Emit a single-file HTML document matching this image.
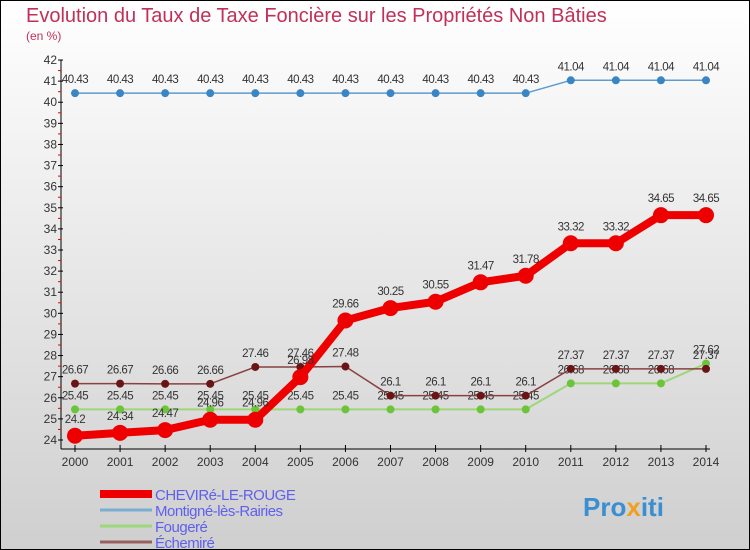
<!DOCTYPE html>
<html><head><meta charset="utf-8"><style>
body{margin:0}
svg{display:block;font-family:"Liberation Sans",sans-serif}
</style></head><body>
<svg width="750" height="550" viewBox="0 0 750 550">
<defs><linearGradient id="bg" x1="0" y1="0" x2="0" y2="1"><stop offset="0" stop-color="#ffffff"/><stop offset="1" stop-color="#cfcfcf"/></linearGradient></defs>
<rect x="0.5" y="0.5" width="749" height="549" fill="url(#bg)" stroke="#000"/>
<text x="26" y="22" font-size="20" fill="#c0305a">Evolution du Taux de Taxe Foncière sur les Propriétés Non Bâties</text>
<text x="26" y="40" font-size="12" fill="#c0305a">(en %)</text>
<g id="axes"></g>
<g id="series"></g>
<g id="legend"></g>
<text x="583" y="516" font-size="26" font-weight="bold" fill="#3a8fd0">Pro<tspan fill="#f0a020">x</tspan>iti</text>
</svg>
<script>
const years=[2000,2001,2002,2003,2004,2005,2006,2007,2008,2009,2010,2011,2012,2013,2014];
const chevire=[24.2,24.34,24.47,24.96,24.96,26.98,29.66,30.25,30.55,31.47,31.78,33.32,33.32,34.65,34.65];
const montigne=[40.43,40.43,40.43,40.43,40.43,40.43,40.43,40.43,40.43,40.43,40.43,41.04,41.04,41.04,41.04];
const fougere=[25.45,25.45,25.45,25.45,25.45,25.45,25.45,25.45,25.45,25.45,25.45,26.68,26.68,26.68,27.62];
const echemire=[26.67,26.67,26.66,26.66,27.46,27.46,27.48,26.1,26.1,26.1,26.1,27.37,27.37,27.37,27.37];
const yTicks=[24,25,26,27,28,29,30,31,32,33,34,35,36,37,38,39,40,41,42];
const seriesNames=["CHEVIRé-LE-ROUGE","Montigné-lès-Rairies","Fougeré","Échemiré"];
const NS="http://www.w3.org/2000/svg";
const X=i=>75+i*(631/14);
const Y=v=>440-(v-24)*21.11;
function mk(t,a,p){const e=document.createElementNS(NS,t);for(const k in a)e.setAttribute(k,a[k]);p.appendChild(e);return e;}
const ax=document.getElementById('axes');
let l=mk('line',{x1:61,y1:60,x2:61,y2:449,stroke:'#000'},ax);


l=mk('line',{x1:61,y1:449,x2:710,y2:449,stroke:'#000'},ax);


yTicks.forEach(v=>{
 mk('line',{x1:58,y1:Y(v),x2:63,y2:Y(v),stroke:'#000'},ax);
 if(v<42)mk('line',{x1:58,y1:Y(v+0.5),x2:61,y2:Y(v+0.5),stroke:'#e00'},ax);
 const t=mk('text',{x:57,y:Y(v)+4,'font-size':12,'text-anchor':'end',fill:'#333'},ax);t.textContent=v;
 
 
});
years.forEach((yr,i)=>{
 mk('line',{x1:X(i),y1:445,x2:X(i),y2:452,stroke:'#000'},ax);
 const t=mk('text',{x:X(i),y:466,'font-size':12,'text-anchor':'middle',fill:'#333'},ax);t.textContent=yr;
 
 
});
const sg=document.getElementById('series');
function draw(vals,color,lw,r,dot,name,lblOff){
 const g=mk('g',{},sg);
 
 
 mk('polyline',{points:vals.map((v,i)=>X(i)+','+Y(v)).join(' '),fill:'none',stroke:color,'stroke-width':lw,'stroke-linejoin':'round'},g);
 vals.forEach((v,i)=>{
  const c=mk('circle',{cx:X(i),cy:Y(v),r:r,fill:dot},g);
  
  
  const t=mk('text',{x:X(i),y:Y(v)-lblOff,'font-size':11.5,'text-anchor':'middle',fill:'#333','letter-spacing':'-0.5'},g);t.textContent=v;
 });
}
draw(fougere,'#9ed67a',2,4,'#6cc43a','series-fougere',10);
draw(echemire,'#8a4040',1.5,4,'#6a1515','series-echemire',10);
draw(montigne,'#5d9bd0',1.5,4,'#3a85c4','series-montigne',10);
draw(chevire,'#ee0000',8,8,'#ee0000','series-chevire',13);
const lg=document.getElementById('legend');
const cols=['#ee0000','#7aaed0','#9ed67a','#9a6060'],ws=[8,3,3,3];
seriesNames.forEach((n,i)=>{
 const y=494+i*16;
 const g=mk('g',{},lg);
 
 
 mk('line',{x1:100,y1:y,x2:152,y2:y,stroke:cols[i],'stroke-width':ws[i]},g);
 const t=mk('text',{x:155,y:y+6,'font-size':15,fill:'#6060ee','letter-spacing':'-0.5'},g);t.textContent=n;
});
</script>
</body></html>
